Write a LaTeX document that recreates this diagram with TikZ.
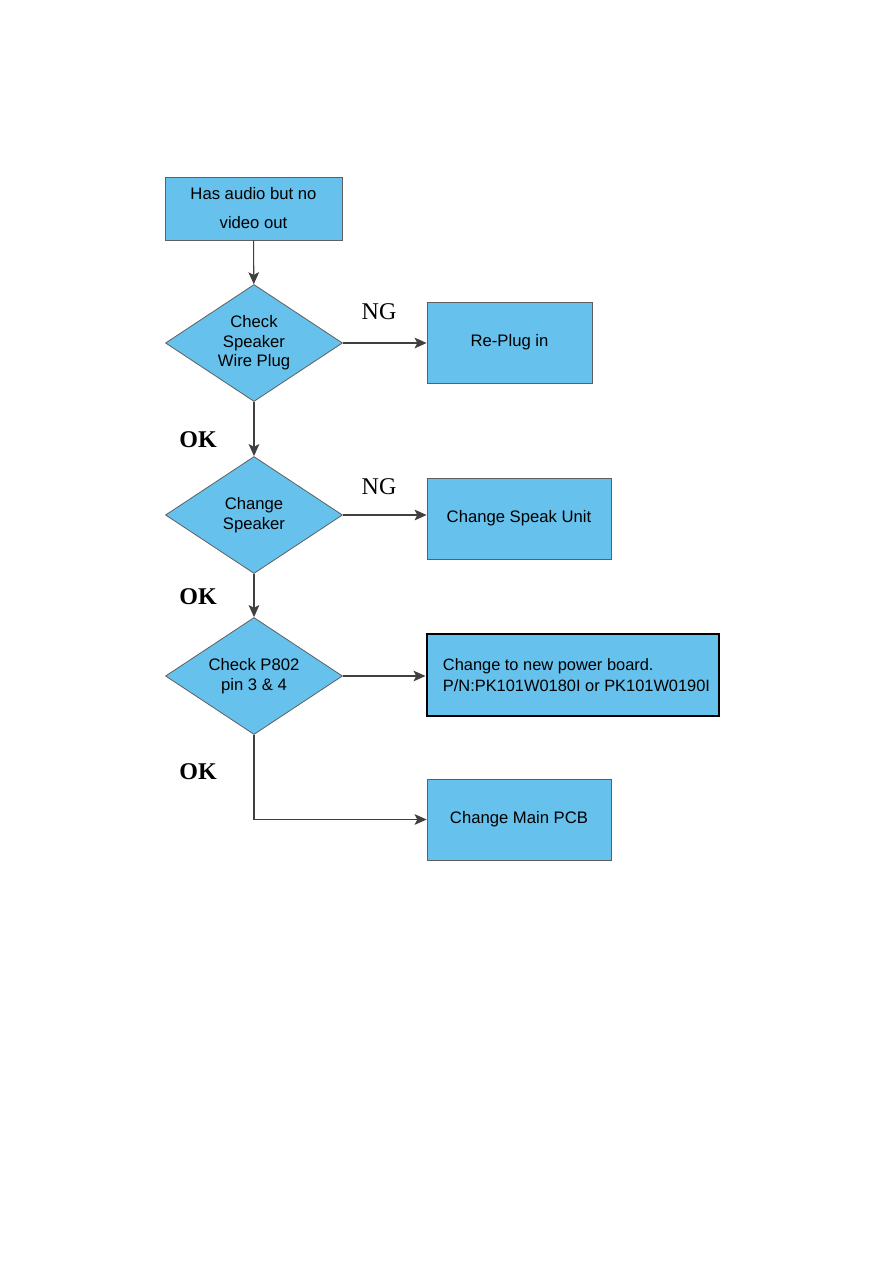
\documentclass[tikz,border=0pt]{standalone}
\usepackage{fontspec}
\setmainfont{Liberation Sans}
\newfontfamily\labelfont{Liberation Serif}
\usepackage{xcolor}
\usepackage{tikz}
\usetikzlibrary{shapes.geometric, arrows.meta, positioning, calc}

\definecolor{boxblue}{RGB}{102,193,236}
\definecolor{edgegray}{RGB}{95,95,95}

\begin{document}
\begin{tikzpicture}[x=0.75pt, y=-0.75pt,
    box/.style={draw=edgegray, line width=0.6pt, fill=boxblue, inner sep=0pt,
        font=\fontsize{12.5}{14.6}\selectfont, align=center},
    decision/.style={diamond, aspect=1.5, draw=edgegray, line width=0.6pt, fill=boxblue, inner sep=0pt,
        minimum width=132.75pt, minimum height=87.75pt,
        font=\fontsize{12.5}{14.6}\selectfont, align=center},
    flow/.style={draw=black!75, line width=0.8pt, -{Stealth[length=9pt, width=8pt, inset=2pt]}},
    tag/.style={font=\labelfont\fontsize{18}{20}\selectfont}]
\useasboundingbox (0,0) rectangle (893,1263);

% boxes and decisions
\node[box, minimum width=132.75pt, minimum height=47.25pt,
    font=\fontsize{12.5}{21.75}\selectfont] (start) at (253.5,208.5) {Has audio but no\\video out};
\node[decision] (wire) at (254,343) {Check\\Speaker\\Wire Plug};
\node[decision] (spk) at (254,515) {Change\\Speaker};
\node[decision] (pin) at (254,676) {Check P802\\pin 3 \& 4};
\node[box, minimum width=123.75pt, minimum height=60.75pt] (replug) at (509.5,342.5) {Re-Plug in};
\node[box, minimum width=138pt, minimum height=60.75pt] (unit) at (519,518.5) {Change Speak Unit};
\node[box, draw=black, line width=1.5pt, minimum width=219pt, minimum height=61.5pt,
    align=left, font=\fontsize{12.3}{15.75}\selectfont] (power) at (572.5,675)
    {\hspace*{6pt}Change to new power board.\\\hspace*{6pt}P/N:PK101W0180I or PK101W0190I};
\node[box, minimum width=138pt, minimum height=60.75pt] (pcb) at (519,819.5) {Change Main PCB};

% connectors
\draw[flow] (start) -- (wire);
\draw[flow] (wire.east) -- (wire.east -| replug.west);
\draw[flow] (wire) -- (spk);
\draw[flow] (spk.east) -- (spk.east -| unit.west);
\draw[flow] (spk) -- (pin);
\draw[flow] (pin.east) -- (pin.east -| power.west);
\draw[flow] (pin.south) |- (pcb.west);

% NG / OK labels
\node[tag] (ng1) at (379,312) {NG};
\node[tag] (ng2) at (379,487) {NG};
\node[tag, font=\labelfont\bfseries\fontsize{18}{20}\selectfont] (ok1) at (198,440) {OK};
\node[tag, font=\labelfont\bfseries\fontsize{18}{20}\selectfont] (ok2) at (198,597) {OK};
\node[tag, font=\labelfont\bfseries\fontsize{18}{20}\selectfont] (ok3) at (198,772) {OK};
\end{tikzpicture}
\end{document}
